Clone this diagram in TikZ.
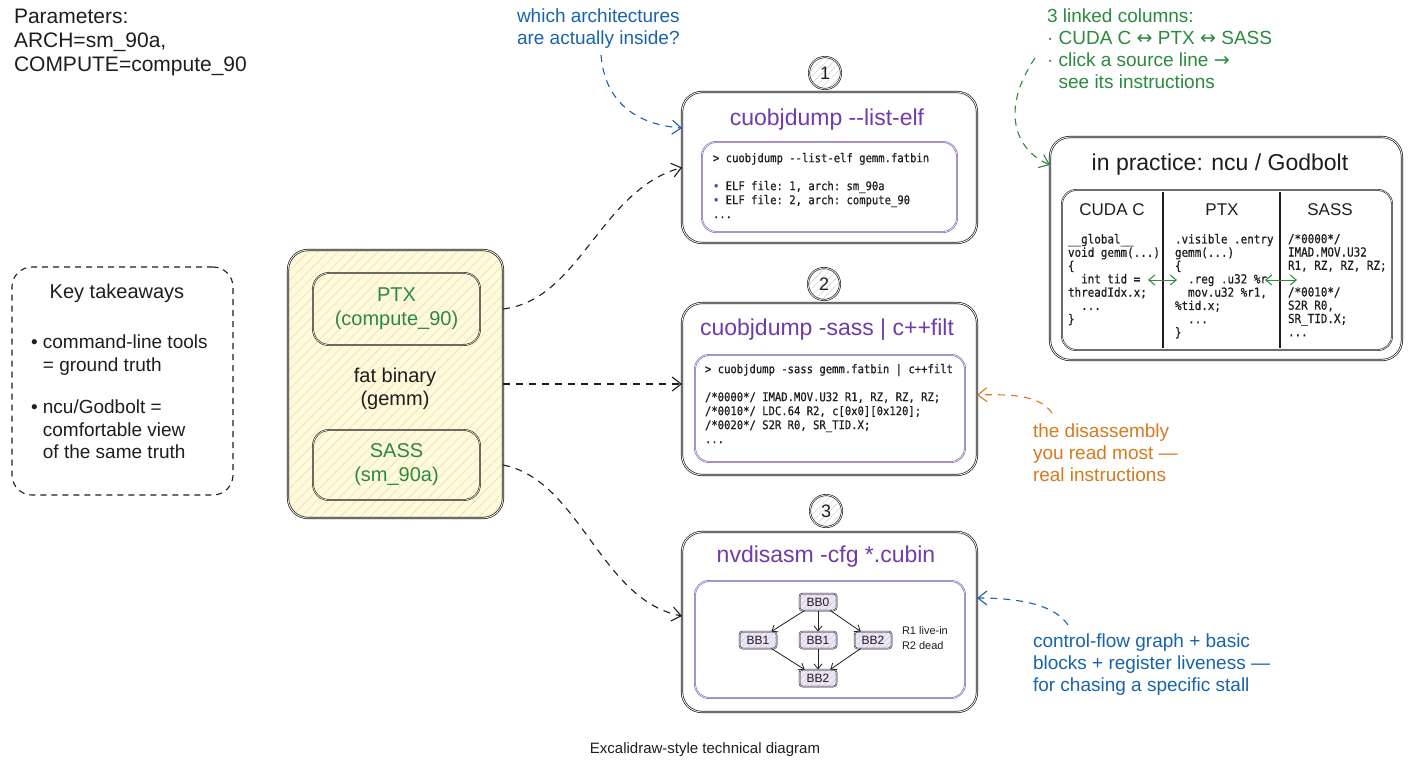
\documentclass[tikz,border=0pt]{standalone}
\usepackage{fontspec}
\setmainfont{Liberation Sans}
\setmonofont[FakeStretch=0.88,FakeBold=0.6]{DejaVu Sans Mono}
\newfontfamily\arrf{DejaVu Sans}
\usetikzlibrary{arrows.meta,patterns.meta,calc}
\definecolor{ink}{RGB}{30,30,30}
\definecolor{ttl}{RGB}{112,60,170}
\definecolor{ibox}{RGB}{120,85,180}
\definecolor{grn}{RGB}{43,138,62}
\definecolor{blu}{RGB}{24,100,171}
\definecolor{org}{RGB}{214,122,30}
\definecolor{ybg}{RGB}{255,250,222}
\definecolor{yhat}{RGB}{238,225,165}
\definecolor{pbg}{RGB}{236,230,246}
\definecolor{phat}{RGB}{200,185,225}
\definecolor{ghat}{RGB}{200,200,200}
\newcommand{\fs}[2]{\fontsize{#1}{#2}\selectfont}
\begin{document}
\begin{tikzpicture}[x=1pt,y=-1pt,
  every node/.style={inner sep=0pt, outer sep=0pt, text=ink},
  obox/.style={draw=ink, line width=0.7pt, double=white, double distance=0.8pt, rounded corners=20pt, fill=white},
  ibx/.style={draw=ibox, line width=0.6pt, double=white, double distance=0.6pt, rounded corners=14pt},
  gin/.style={draw=ink, line width=0.6pt, double=white, double distance=0.6pt, rounded corners=14pt},
  fatbox/.style={draw=ink, line width=0.7pt, double=ybg, double distance=0.8pt, rounded corners=20pt,
     preaction={fill=ybg}, pattern={Lines[angle=45,distance=7pt,line width=0.6pt]}, pattern color=yhat},
  fin/.style={draw=ink, line width=0.6pt, double=ybg, double distance=0.6pt, rounded corners=16pt},
  dashbox/.style={draw=ink, line width=1.1pt, dash pattern=on 6pt off 5pt, rounded corners=20pt},
  circ/.style={circle, draw=ink, line width=0.65pt, double=white, double distance=0.7pt, minimum size=32pt,
     preaction={fill=white}, pattern={Lines[angle=45,distance=5pt,line width=0.4pt]}, pattern color=ghat,
     font={\fs{18}{20}}},
  cfgn/.style={draw=ink, line width=0.5pt, double=pbg, double distance=0.5pt, rounded corners=3pt,
     preaction={fill=pbg}, pattern={Lines[angle=45,distance=4pt,line width=0.4pt]}, pattern color=phat,
     minimum width=37pt, minimum height=17pt, font={\fs{12}{14}}},
  cfga/.style={draw=ink, line width=0.8pt, -{Straight Barb[length=5pt,width=8pt]}},
  dcon/.style={draw=#1, line width=1.1pt, dash pattern=on 7pt off 6pt, -{Straight Barb[length=9pt,width=14pt]}},
  garr/.style={draw=grn, line width=1pt, {Straight Barb[length=6pt,width=10pt]}-{Straight Barb[length=6pt,width=10pt]}},
  ttlf/.style={font={\fs{23}{26}}, text=ttl},
  code/.style={font={\ttfamily\fs{12}{14}}, align=left, anchor=north west},
  gcode/.style={font={\ttfamily\fs{12.4}{13.3}}, align=left, anchor=north west},
  ann/.style={anchor=north west, align=left, font={\fs{19}{22}}},
]
\useasboundingbox (0,0) rectangle (1408,768);
\fill[white] (0,0) rectangle (1408,768);

% parameters
\node[anchor=north west, align=left, font={\fs{21}{24}}] (params) at (14,9)
  {Parameters:\\ARCH=sm\_90a,\\COMPUTE=compute\_90};

% key takeaways
\node[dashbox, minimum width=221pt, minimum height=228pt] (kt) at (122.5,381) {};
\node[font={\fs{20}{22}}] (ktt) at (117,293) {Key takeaways};
\node[anchor=north west, align=left, font={\fs{19}{22.5}}] (ktb) at (31,335)
  {• command-line tools\\\hphantom{• }= ground truth\\[20pt]• ncu/Godbolt =\\\hphantom{• }comfortable view\\\hphantom{• }of the same truth};

% fat binary
\node[fatbox, minimum width=215pt, minimum height=268pt] (fat) at (395.5,384) {};
\node[fin, minimum width=167pt, minimum height=72pt, align=center, text=grn, font={\fs{20}{24}}] (ptx) at (396.5,309) {PTX\\(compute\_90)};
\node[fin, minimum width=167pt, minimum height=70pt, align=center, text=grn, font={\fs{20}{24}}] (sass) at (396.5,465) {SASS\\(sm\_90a)};
\node[align=center, font={\fs{20}{23}}] (fbt) at (395,389) {fat binary\\(gemm)};

% box 1
\node[circ] (n1) at (825,73) {1};
\node[obox, minimum width=295pt, minimum height=151pt] (box1) at (829.5,167.5) {};
\node[ttlf] (t1) at (827,120) {cuobjdump -{}-list-elf};
\node[ibx, minimum width=255pt, minimum height=90pt] (i1) at (829.5,187) {};
\node[code] (c1) at (713,153) {> cuobjdump -{}-list-elf gemm.fatbin\\[14pt]{\color{ttl}•} ELF file: 1, arch: sm\_90a\\{\color{ttl}•} ELF file: 2, arch: compute\_90\\...};

% box 2
\node[circ] (n2) at (824,284) {2};
\node[obox, minimum width=295pt, minimum height=172pt] (box2) at (829.5,389) {};
\node[ttlf] (t2) at (827,330) {cuobjdump -sass | c++filt};
\node[ibx, minimum width=270pt, minimum height=107pt] (i2) at (830,408.5) {};
\node[code] (c2) at (705,364) {> cuobjdump -sass gemm.fatbin | c++filt\\[14pt]/*0000*/ IMAD.MOV.U32 R1, RZ, RZ, RZ;\\/*0010*/ LDC.64 R2, c[0x0][0x120];\\/*0020*/ S2R R0, SR\_TID.X;\\...};

% box 3
\node[circ] (n3) at (826,511) {3};
\node[obox, minimum width=295pt, minimum height=180pt] (box3) at (829.5,622) {};
\node[ttlf] (t3) at (826,557) {nvdisasm -cfg *.cubin};
\node[ibx, minimum width=270pt, minimum height=117pt] (i3) at (830,639.5) {};
\node[cfgn] (b0) at (818,602) {BB0};
\node[cfgn] (b1) at (758,640) {BB1};
\node[cfgn] (b1m) at (818,640) {BB1};
\node[cfgn] (b2) at (873,640) {BB2};
\node[cfgn] (b2b) at (818,678) {BB2};
\draw[cfga] (b0) -- (b1);
\draw[cfga] (b0) -- (b1m);
\draw[cfga] (b0) -- (b2);
\draw[cfga] (b1) -- (b2b);
\draw[cfga] (b1m) -- (b2b);
\draw[cfga] (b2) -- (b2b);
\node[anchor=north west, align=left, font={\fs{11}{15}}] (rl) at (902,627) {R1 live-in\\R2 dead};

% godbolt panel
\node[obox, minimum width=352pt, minimum height=223pt] (gb) at (1226,248.5) {};
\node[font={\fs{23}{26}}] (gbt) at (1220,165) {in practice: ncu / Godbolt};
\node[gin, minimum width=330pt, minimum height=160pt] (gi) at (1227,270) {};
\draw[ink, line width=1.3pt] (1163,192) -- (1163,348);
\draw[ink, line width=1.3pt] (1280,192) -- (1280,348);
\node[font={\fs{17}{20}}] (h1) at (1112,210) {CUDA C};
\node[font={\fs{17}{20}}] (h2) at (1222,210) {PTX};
\node[font={\fs{17}{20}}] (h3) at (1330,210) {SASS};
\node[gcode] (g1) at (1068,234) {\_\_global\_\_\\void gemm(...)\\\{\\\ \ int tid =\\threadIdx.x;\\\ \ ...\\\}};
\node[gcode] (g2) at (1175,234) {.visible .entry\\gemm(...)\\\{\\\ \ .reg .u32 \%r\\\ \ mov.u32 \%r1,\\\%tid.x;\\\ \ ...\\\}};
\node[gcode] (g3) at (1288,234) {/*0000*/\\IMAD.MOV.U32\\R1, RZ, RZ, RZ;\\[13.3pt]/*0010*/\\S2R R0,\\SR\_TID.X;\\...};
\coordinate (la) at (1148,280);
\coordinate (lb) at (1177,280);
\coordinate (lc) at (1265,280);
\coordinate (ld) at (1297,280);
\draw[garr] (la) -- (lb);
\draw[garr] (lc) -- (ld);

% annotations
\node[ann, text=blu] (q1) at (517,9) {which architectures\\are actually inside?};
\node[ann, text=grn] (gn) at (1047,9) {3 linked columns:\\· CUDA C {\arrf ↔} PTX {\arrf ↔} SASS\\· click a source line {\arrf →}\\\hphantom{· }see its instructions};
\node[ann, text=org] (on) at (1033,424) {the disassembly\\you read most —\\real instructions};
\node[ann, text=blu] (bn) at (1033,634) {control-flow graph + basic\\blocks + register liveness —\\for chasing a specific stall};

\coordinate (qa) at (601,55);
\coordinate (ga) at (1035,58);
\coordinate (oa) at (1052,413);
\coordinate (ba) at (1068,625);
\draw[dcon=blu] (qa) .. controls (605,105) and (640,125) .. ([yshift=-36pt]box1.north west);
\draw[dcon=grn] (ga) .. controls (1000,110) and (1015,150) .. ([yshift=-28pt]gb.north west);
\draw[dcon=org] (oa) .. controls (1040,395) and (1010,394) .. ([yshift=-6pt]box2.east);
\draw[dcon=blu] (ba) .. controls (1055,605) and (1020,598) .. ([yshift=24pt]box3.east);

% connectors from fat binary
\draw[dcon=ink] (fat.east |- ptx) .. controls (580,300) and (600,190) .. (box1.west);
\draw[dcon=ink] (fat.east) -- (fat.east -| box2.west);
\draw[dcon=ink] (fat.east |- sass) .. controls (580,480) and (600,600) .. ([yshift=6pt]box3.west);

% caption
\node[font={\fs{15}{17}}] (cap) at (705,750) {Excalidraw-style technical diagram};
\end{tikzpicture}
\end{document}
